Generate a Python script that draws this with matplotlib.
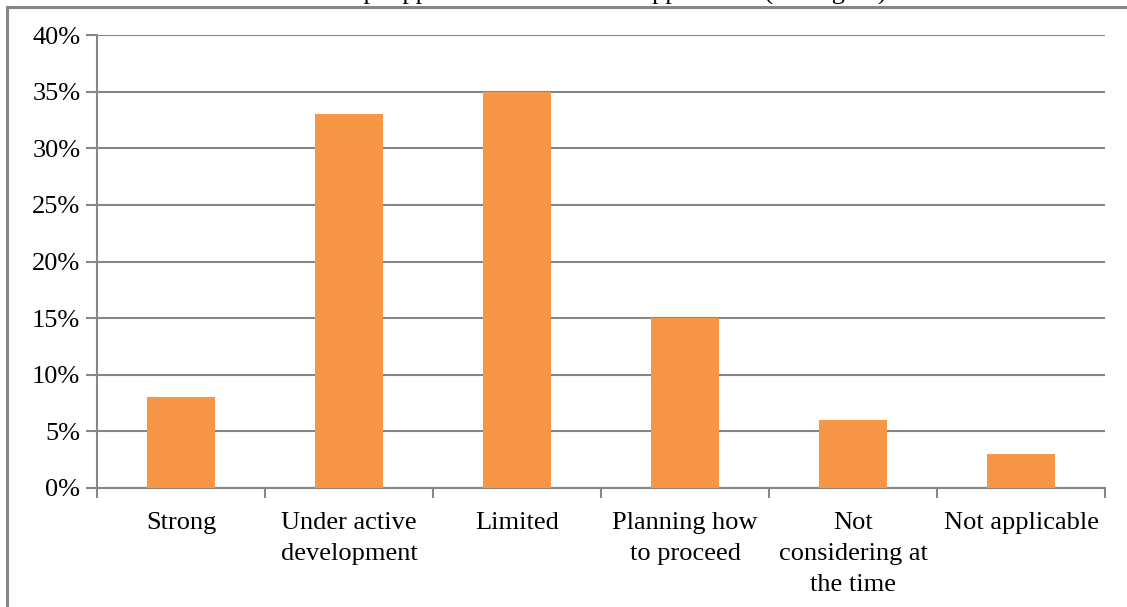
import numpy as np
import matplotlib.pyplot as plt
from matplotlib.lines import Line2D

plt.rcParams['font.family'] = ['Liberation Serif', 'DejaVu Serif']

# chart data
categories = ["Strong", "Under active\ndevelopment", "Limited",
              "Planning how\nto proceed", "Not\nconsidering at\nthe time",
              "Not applicable"]
shares = [8, 33, 35, 15, 6, 3]   # percent
title = "Concept approach to the mobile application (among all)"

W, H = 1127, 607
fig = plt.figure(figsize=(W / 100, H / 100), dpi=100)
ax = fig.add_axes([97 / W, 1 - 488 / H, (1105 - 97) / W, (488 - 35) / H])

grey = "#868686"
x = np.arange(len(categories))
ax.bar(x, shares, width=0.4, color="#F79646", zorder=3)

ax.set_xlim(-0.5, len(categories) - 0.5)
ax.set_ylim(0, 40)
ax.set_yticks(np.arange(0, 41, 5))
ax.set_yticklabels([f"{v}%" for v in range(0, 41, 5)])
ax.yaxis.grid(True, color=grey, linewidth=1.5, zorder=0)

# category labels centred, ticks at category boundaries
ax.set_xticks(x)
ax.set_xticklabels(categories, linespacing=1.55)
ax.tick_params(axis="x", length=0, pad=17, labelsize=19)
ax.set_xticks(np.arange(-0.5, len(categories)), minor=True)
ax.tick_params(axis="x", which="minor", length=7, width=1.5, color=grey)
ax.tick_params(axis="y", length=8, width=1.5, color=grey, labelsize=19, pad=4)

for s in ["top", "right"]:
    ax.spines[s].set_visible(False)
for s in ["left", "bottom"]:
    ax.spines[s].set_color(grey)
    ax.spines[s].set_linewidth(1.5)

# chart-area frame (cut off at the top/left of the picture)
fig.add_artist(Line2D([6.5 / W, 1.0], [1 - 6.5 / H] * 2, transform=fig.transFigure,
                      color=grey, linewidth=2.2))
fig.add_artist(Line2D([6.5 / W] * 2, [0, 1 - 6.5 / H], transform=fig.transFigure,
                      color=grey, linewidth=2.2))

# title, mostly clipped above the frame
fig.text(0.525, 1.0, title, ha="center", va="baseline", fontsize=19)

fig.savefig("out.png", dpi=100)
